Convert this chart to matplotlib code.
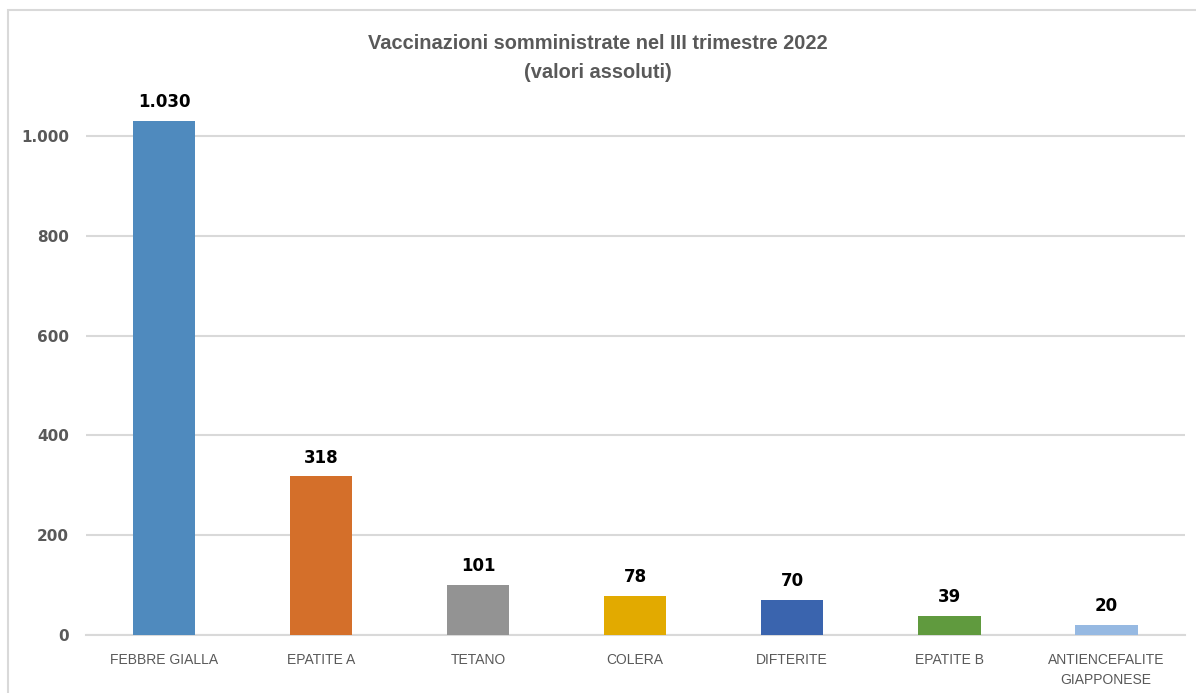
# coding: utf-8

import matplotlib
matplotlib.use("Agg")
import matplotlib.pyplot as plt
from matplotlib.patches import Rectangle
from matplotlib.ticker import FuncFormatter


# data
categories = ["FEBBRE GIALLA", "EPATITE A", "TETANO", "COLERA",
              "DIFTERITE", "EPATITE B", "ANTIENCEFALITE\nGIAPPONESE"]
values = [1030, 318, 101, 78, 70, 39, 20]
colors = ["#4F8ABE", "#D46F2A", "#939393", "#E2AA00",
          "#3A64AE", "#609A3E", "#96B9E2"]
y_ticks = [0, 200, 400, 600, 800, 1000]


def thousands(v, pos=None):
    # italian style: dot as thousands separator
    return "{:,.0f}".format(v).replace(",", ".")


def main():
    fig = plt.figure(figsize=(11.96, 6.93), dpi=100)
    ax = fig.add_axes([0.0715, 0.0837, 0.919, 0.7922])

    x = range(len(categories))
    ax.bar(x, values, width=0.4, color=colors, zorder=3)

    # value labels above the bars
    for i, v in enumerate(values):
        ax.annotate(thousands(v), (i, v), xytext=(0, 7), textcoords="offset points",
                    ha="center", va="bottom", fontsize=12, fontweight="bold",
                    color="black", family="DejaVu Sans")

    ax.set_xlim(-0.5, len(categories) - 0.5)
    ax.set_ylim(0, 1100)
    ax.set_yticks(y_ticks)
    ax.yaxis.set_major_formatter(FuncFormatter(thousands))
    ax.set_xticks(list(x))
    ax.set_xticklabels(categories, fontsize=10, color="#595959",
                       family="Liberation Sans", linespacing=1.5)
    for t in ax.get_yticklabels():
        t.set_fontweight("bold")
        t.set_fontsize(11)
        t.set_color("#595959")

    ax.tick_params(axis="both", length=0)
    ax.tick_params(axis="y", pad=12)
    ax.tick_params(axis="x", pad=13)
    ax.grid(axis="y", color="#D9D9D9", linewidth=1.5, zorder=0)
    for s in ["top", "right", "left"]:
        ax.spines[s].set_visible(False)
    ax.spines["bottom"].set_color("#D9D9D9")
    ax.spines["bottom"].set_linewidth(1.5)

    fig.text(0.5, 1 - 58 / 693, "Vaccinazioni somministrate nel III trimestre 2022\n(valori assoluti)",
             ha="center", va="center", fontsize=14.4, fontweight="bold",
             color="#595959", family="Liberation Sans", linespacing=1.65)

    # chart frame
    top = 1 - 10 / 693
    fig.patches.append(Rectangle((8 / 1196, -0.05), 1.1, top + 0.05,
                                 transform=fig.transFigure, fill=False,
                                 edgecolor="#D9D9D9", linewidth=1.5))

    fig.savefig("out.png", dpi=100)


if __name__ == "__main__":
    main()
